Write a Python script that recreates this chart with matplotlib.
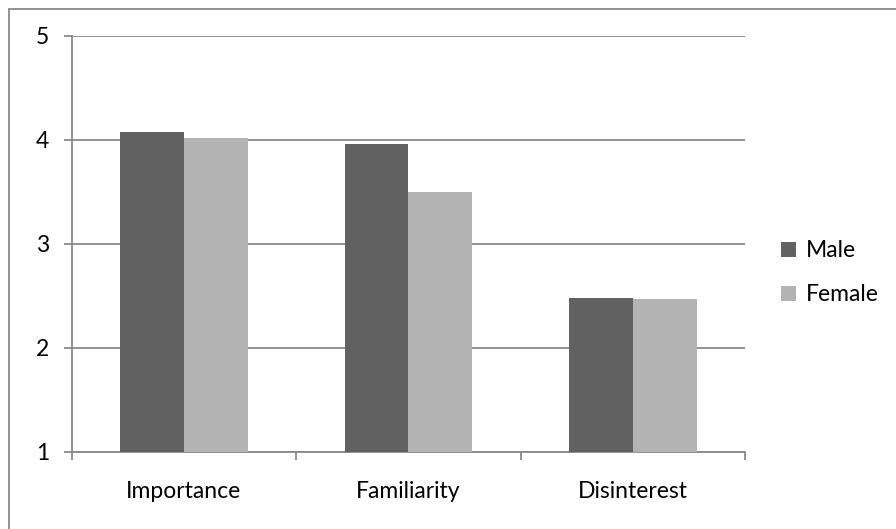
import numpy as np
import matplotlib.pyplot as plt
from matplotlib.patches import Rectangle

# data
categories = ['Importance', 'Familiarity', 'Disinterest']
male = [4.07, 3.955, 2.475]
female = [4.02, 3.50, 2.465]
yticks = [1, 2, 3, 4, 5]

plt.rcParams['font.family'] = ['Lato', 'DejaVu Sans']

grid_c = '#888888'
male_c = '#616161'
female_c = '#b3b3b3'
fs = 16.5

fig = plt.figure(figsize=(8.96, 5.29), dpi=100)
ax = fig.add_axes([0.080, 0.1461, 0.7515, 0.7864])

x = np.arange(len(categories))
w = 0.284
ax.bar(x - w / 2, np.array(male) - 1, w, bottom=1, color=male_c, label='Male', zorder=3)
ax.bar(x + w / 2, np.array(female) - 1, w, bottom=1, color=female_c, label='Female', zorder=3)

ax.set_xlim(-0.5, len(categories) - 0.5)
ax.set_ylim(1, 5)
ax.set_yticks(yticks)
ax.set_yticklabels([str(v) for v in yticks])
ax.yaxis.grid(True, color=grid_c, linewidth=1.3, zorder=0)

# category ticks at boundaries, labels centered
ax.set_xticks(np.arange(-0.5, len(categories)), minor=False)
ax.set_xticklabels([])
ax.set_xticks(x, minor=True)
ax.set_xticklabels(categories, minor=True)
ax.tick_params(axis='x', which='major', direction='out', length=6, color=grid_c, width=1.3)
ax.tick_params(axis='x', which='minor', length=0, pad=21, labelsize=fs)
ax.tick_params(axis='y', direction='out', length=6, color=grid_c, width=1.3, pad=10, labelsize=fs)

for s in ['top', 'right']:
    ax.spines[s].set_visible(False)
for s in ['left', 'bottom']:
    ax.spines[s].set_color(grid_c)
    ax.spines[s].set_linewidth(1.3)

ax.legend(loc='center left', bbox_to_anchor=(1.023, 0.43), frameon=False, fontsize=fs,
          handlelength=0.65, handleheight=0.65, handletextpad=0.45, labelspacing=1.0)

# outer chart border
fig.patches.append(Rectangle((9 / 896, -0.1), 1.2, 1.1 - 8.5 / 529, transform=fig.transFigure,
                             fill=False, edgecolor=grid_c, linewidth=1.3))

fig.savefig('out.png', dpi=100)
